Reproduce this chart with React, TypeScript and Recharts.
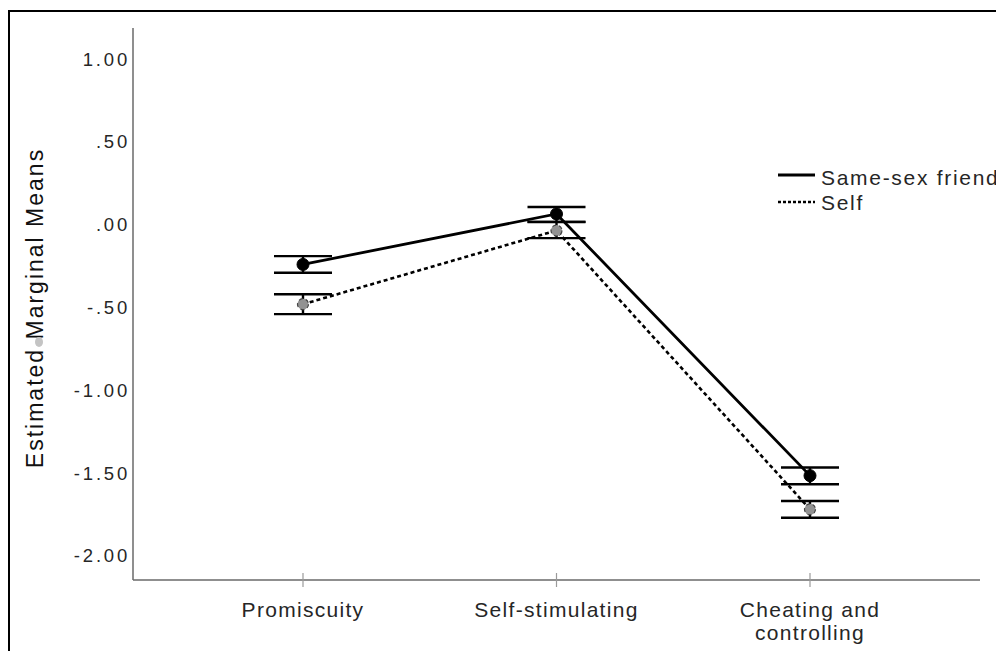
import {
  LineChart,
  Line,
  XAxis,
  YAxis,
  ErrorBar,
} from 'recharts';

const categories = ['Promiscuity', 'Self-stimulating', 'Cheating and controlling'];

const friendMeans = [-0.24, 0.065, -1.515];
const friendLow = [-0.29, 0.017, -1.567];
const friendHigh = [-0.19, 0.107, -1.466];

const selfMeans = [-0.48, -0.035, -1.718];
const selfLow = [-0.54, -0.081, -1.769];
const selfHigh = [-0.42, 0.016, -1.668];

const yTicks = [-2, -1.5, -1, -0.5, 0, 0.5, 1];

const FONT = '"Liberation Sans", Arial, Helvetica, sans-serif';
const AXIS_STROKE = '#6a6a6a';
const TEXT_FILL = '#262626';

const data = categories.map((name, i) => ({
  name,
  friend: friendMeans[i],
  friendErr: [friendMeans[i] - friendLow[i], friendHigh[i] - friendMeans[i]],
  self: selfMeans[i],
  selfErr: [selfMeans[i] - selfLow[i], selfHigh[i] - selfMeans[i]],
}));

// SPSS style: .50 / -.50 / .00
function fmt(v: number): string {
  return v.toFixed(2).replace(/^(-?)0\./, '$1.');
}

function YTick({ x, y, payload }: any) {
  return (
    <text
      x={x}
      y={y}
      dy={6.5}
      textAnchor="end"
      fill={TEXT_FILL}
      style={{ fontFamily: FONT, fontSize: 18.5, letterSpacing: '2.8px' }}
    >
      {fmt(payload.value)}
    </text>
  );
}

function XTick({ x, y, payload }: any) {
  const label: string = payload.value;
  const lines = label === 'Cheating and controlling' ? ['Cheating and', 'controlling'] : [label];
  return (
    <g>
      <line x1={x} x2={x} y1={y - 7} y2={y + 7} stroke="#9a9a9a" strokeWidth={1.2} />
      {lines.map((ln, i) => (
        <text
          key={ln}
          x={x}
          y={y + 37 + i * 23}
          textAnchor="middle"
          fill={TEXT_FILL}
          style={{ fontFamily: FONT, fontSize: 21, letterSpacing: '1.3px' }}
        >
          {ln}
        </text>
      ))}
    </g>
  );
}

function LegendBox() {
  const textStyle = { fontFamily: FONT, fontSize: 21, letterSpacing: '1.7px' };
  return (
    <svg
      width={226}
      height={60}
      style={{ position: 'absolute', left: 768, top: 150 }}
    >
      <line x1={0} x2={37} y1={13} y2={13} stroke="#000" strokeWidth={3} />
      <text x={43} y={23} fill={TEXT_FILL} style={textStyle}>
        Same-sex friend
      </text>
      <line x1={0} x2={37} y1={40} y2={40} stroke="#000" strokeWidth={2.5} strokeDasharray="3 2" />
      <text x={43} y={48} fill={TEXT_FILL} style={textStyle}>
        Self
      </text>
    </svg>
  );
}

export default function App() {
  return (
    <div
      style={{
        position: 'relative',
        width: 996,
        height: 639,
        marginTop: 2,
        borderTop: '2px solid #000',
        borderLeft: '2px solid #000',
        overflow: 'hidden',
        background: '#fff',
      }}
    >
      <LineChart
        width={990}
        height={639}
        data={data}
        margin={{ top: 16, right: 20, bottom: 0, left: 0 }}
      >
        <XAxis
          dataKey="name"
          height={71}
          padding={{ left: 170, right: 170 }}
          axisLine={{ stroke: AXIS_STROKE, strokeWidth: 1.5 }}
          tickLine={false}
          tickSize={0}
          tickMargin={0}
          tick={<XTick />}
          interval={0}
        />
        <YAxis
          width={123}
          domain={[-2.145, 1.1875]}
          ticks={yTicks}
          axisLine={{ stroke: AXIS_STROKE, strokeWidth: 1.5 }}
          tickLine={false}
          tickSize={0}
          tickMargin={3}
          tick={<YTick />}
          allowDataOverflow
          label={
            <g>
              <text
                x={25}
                y={296}
                transform="rotate(-90 25 296)"
                textAnchor="middle"
                dominantBaseline="central"
                fill="#111"
                style={{ fontFamily: FONT, fontSize: 23, letterSpacing: '2px' }}
              >
                Estimated Marginal Means
              </text>
              <ellipse cx={29} cy={330} rx={4} ry={5} fill="#c4c4c4" />
            </g>
          }
        />
        <Line
          dataKey="self"
          stroke="#000"
          strokeWidth={2.6}
          strokeDasharray="4 3"
          isAnimationActive={false}
          dot={{ r: 5.5, fill: '#929292', stroke: '#444', strokeWidth: 1.2 }}
        >
          <ErrorBar dataKey="selfErr" width={29} stroke="#000" strokeWidth={2.4} direction="y" />
        </Line>
        <Line
          dataKey="friend"
          stroke="#000"
          strokeWidth={2.8}
          isAnimationActive={false}
          dot={{ r: 6, fill: '#000', stroke: '#000', strokeWidth: 1 }}
        >
          <ErrorBar dataKey="friendErr" width={29} stroke="#000" strokeWidth={2.4} direction="y" />
        </Line>
      </LineChart>
      <LegendBox />
    </div>
  );
}
